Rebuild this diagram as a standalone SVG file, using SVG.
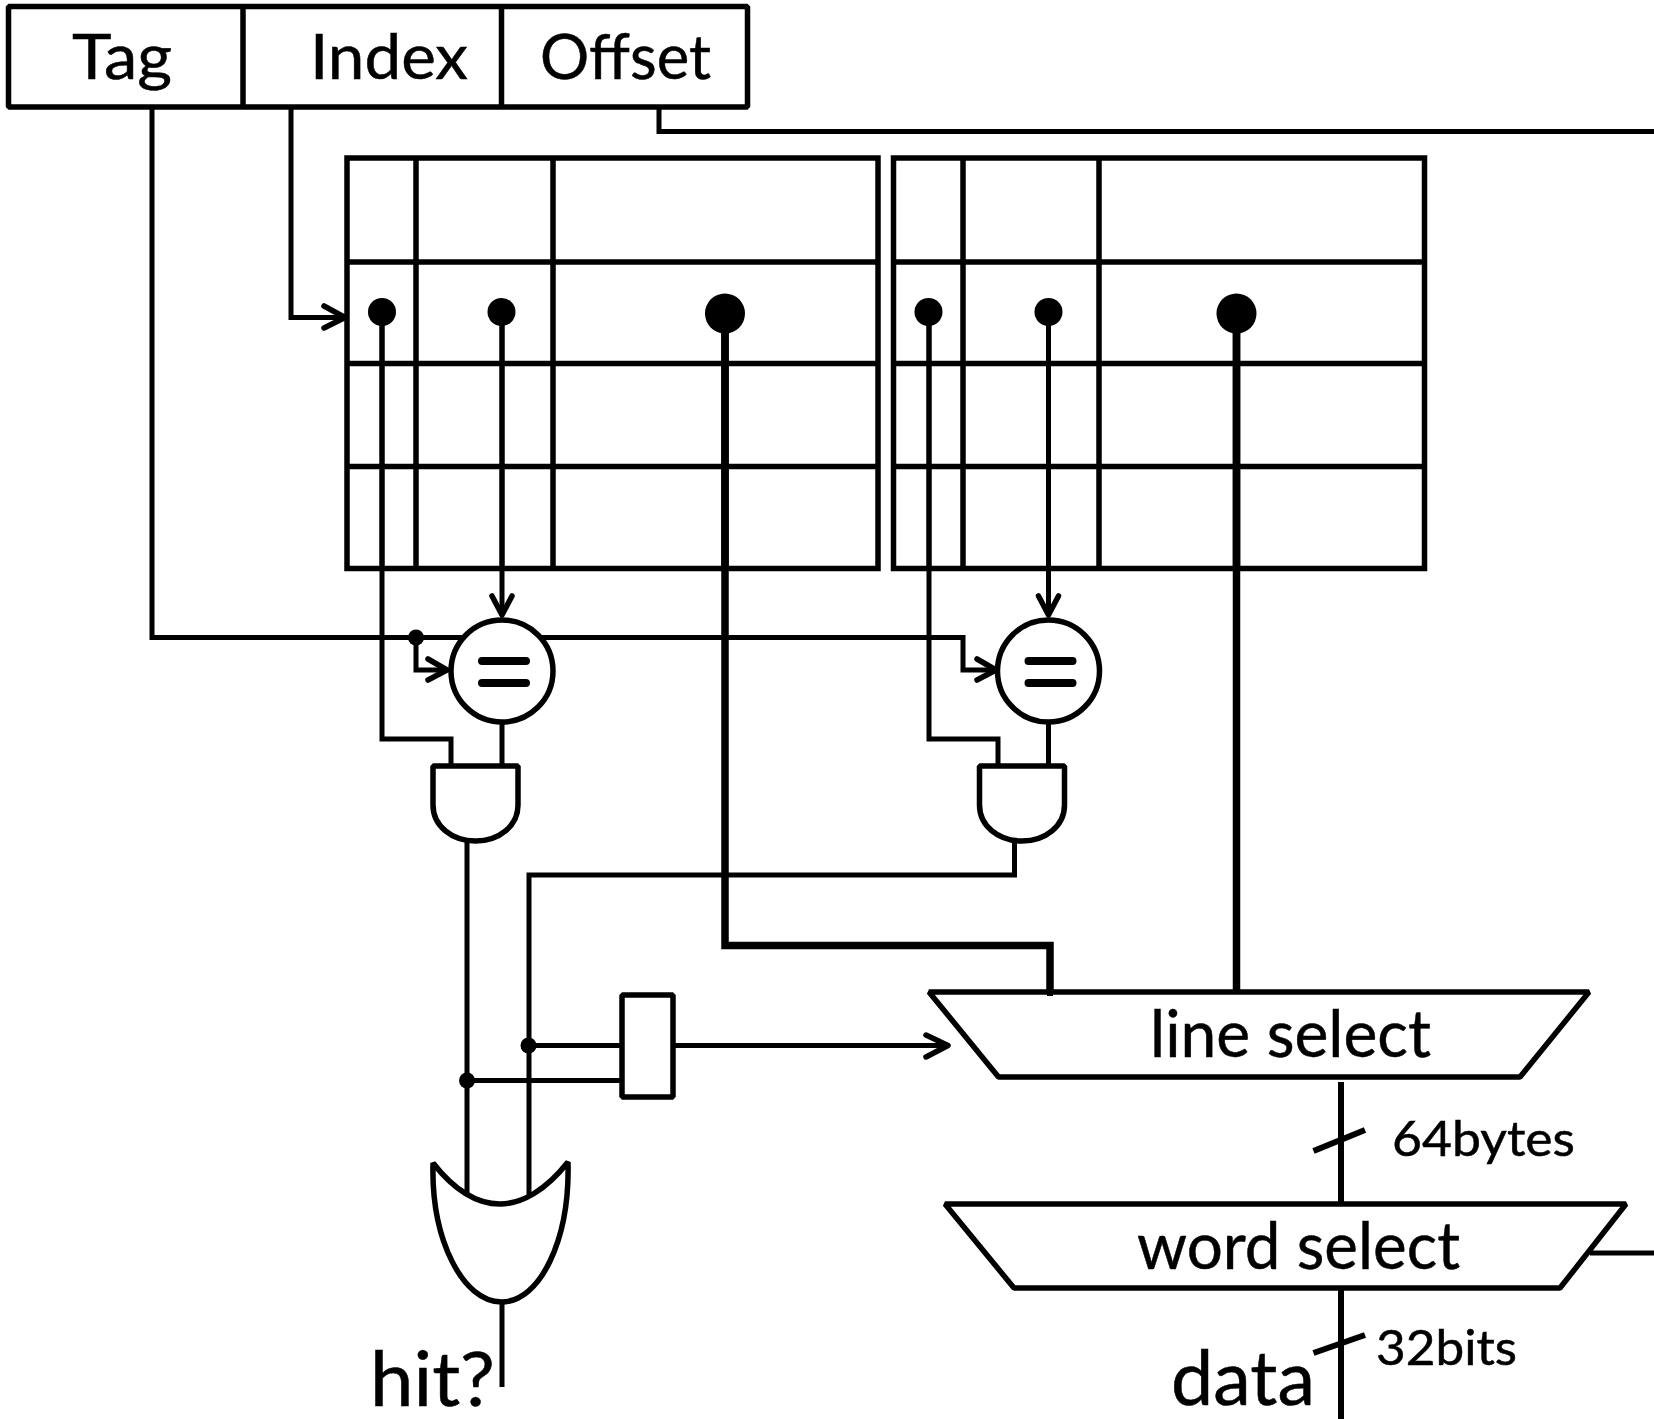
<svg xmlns="http://www.w3.org/2000/svg" width="1654" height="1419" viewBox="0 0 1654 1419">
<style>
.s{fill:#fff;stroke:#000;stroke-width:5.5;stroke-linejoin:bevel}
.g{fill:none;stroke:#000;stroke-width:5.5}
.w{fill:none;stroke:#000;stroke-width:5}
.t{fill:none;stroke:#000;stroke-width:7.5}
.m{fill:none;stroke:#000;stroke-width:6}
.a{fill:none;stroke:#000;stroke-width:5.5;stroke-linecap:round;stroke-linejoin:round}
.d{fill:#000}
.e{fill:none;stroke:#000;stroke-width:8;stroke-linecap:round}
text{font-family:"Lato","Open Sans","Liberation Sans",sans-serif;fill:#000;stroke:#000;stroke-width:0.5}
</style>
<rect width="1654" height="1419" fill="#fff"/>
<g id="connectors">
<path class="w" d="M152 107V637.5H545"/>
<path class="w" d="M545 637.5H963V670H992"/>
<path class="w" d="M291 107V317.5H343"/>
<path class="w" d="M659 107V131.500H1654"/>
<path class="a" d="M324 306L345 317.500L324 328"/>
<path class="w" d="M416 637V670H444"/>
<path class="a" d="M428 659L447 670L428 680"/>
<path class="a" d="M977 659L996 670L977 680"/>
<path class="w" d="M382 312V739H451V766"/>
<path class="w" d="M929 312V739H998V766"/>
<path class="w" d="M502 312V612"/>
<path class="w" d="M1048.500 312V612"/>
<path class="a" d="M492 596L502 615L512 596"/>
<path class="a" d="M1038.500 596L1048.500 615L1058.500 596"/>
<path class="w" d="M502 722V766"/>
<path class="w" d="M1048.500 722V766"/>
<path class="t" d="M725 313V945.500H1050V996"/>
<path class="t" d="M1236.500 313V992"/>
<path class="w" d="M467 841V1195"/>
<path class="w" d="M1014.500 841V875H529V1195"/>
<path class="w" d="M529 1045.500H622"/>
<path class="w" d="M467 1080.500H622"/>
<path class="w" d="M673 1045.500H945"/>
<path class="a" d="M926 1035L948 1045.500L926 1057"/>
<path class="w" d="M502 1302V1387"/>
<path class="m" d="M1341 1082V1204"/>
<path class="m" d="M1313.500 1151L1365 1130"/>
<path class="m" d="M1341 1288V1419"/>
<path class="m" d="M1313.500 1353L1365 1335"/>
<path class="w" d="M1590 1253H1654"/>
</g>
<g id="address">
<rect class="s" x="8.500" y="6.500" width="739" height="100.500"/>
<path class="g" d="M243 6.500V107M501.500 6.500V107"/>
<text x="72" y="79" font-size="61" textLength="100" lengthAdjust="spacingAndGlyphs">Tag</text>
<text x="310" y="79" font-size="61" textLength="158" lengthAdjust="spacingAndGlyphs">Index</text>
<text x="540" y="79" font-size="61" textLength="171" lengthAdjust="spacingAndGlyphs">Offset</text>
</g>
<g id="cache-way-1">
<rect class="g" x="347" y="158" width="531" height="410.500"/>
<path class="g" d="M416 158V568.500M553 158V568.500M347 262H878M347 363.500H878M347 466.500H878"/>
</g>
<g id="cache-way-2">
<rect class="g" x="893.500" y="158" width="531" height="410.500"/>
<path class="g" d="M963 158V568.500M1099 158V568.500M893.500 262H1424.500M893.500 363.500H1424.500M893.500 466.500H1424.500"/>
</g>
<g id="read-points">
<path class="w" d="M382 312V568M929 312V568M502 312V568M1048.500 312V568"/>
<path class="t" d="M725 313V568M1236.500 313V568"/>
<circle class="d" cx="382" cy="312" r="14"/>
<circle class="d" cx="501.500" cy="312" r="14"/>
<circle class="d" cx="725" cy="313.500" r="20"/>
<circle class="d" cx="928.500" cy="312" r="14"/>
<circle class="d" cx="1048.500" cy="312" r="14"/>
<circle class="d" cx="1236.500" cy="313.500" r="20"/>
</g>
<g id="compare-1">
<circle class="s" cx="502" cy="671" r="51"/>
<path class="e" d="M482 661H526M482 683H526"/>
</g>
<g id="compare-2">
<circle class="s" cx="1048.500" cy="671" r="51"/>
<path class="e" d="M1028.500 661H1072.500M1028.500 683H1072.500"/>
</g>
<g id="and-1"><path class="s" d="M433 766H518V805C518 826 499 841 475.500 841C452 841 433 826 433 805Z"/></g>
<g id="and-2"><path class="s" d="M979.500 766H1064.500V805C1064.500 826 1045.500 841 1022 841C998.500 841 979.500 826 979.500 805Z"/></g>
<g id="junctions">
<circle class="d" cx="416" cy="637.500" r="8"/>
<circle class="d" cx="528.500" cy="1045.500" r="8"/>
<circle class="d" cx="467" cy="1080.500" r="8"/>
</g>
<g id="latch"><rect class="s" x="622" y="995" width="51" height="102"/></g>
<g id="or"><path class="s" d="M433 1163C455 1191 478 1204 500 1204C522 1204 546 1190 568 1162C570 1240 540 1302 501.500 1302C463 1302 431 1240 433 1163Z"/></g>
<g id="line-select">
<path class="s" d="M929 992H1589L1520 1077H998.500Z"/>
<path class="m" d="M1050 990V996"/>
<text x="1150" y="1057" font-size="65" textLength="281" lengthAdjust="spacingAndGlyphs">line select</text>
</g>
<g id="word-select">
<path class="s" d="M945 1204H1626L1560 1288H1014Z"/>
<text x="1137" y="1269" font-size="65" textLength="323" lengthAdjust="spacingAndGlyphs">word select</text>
</g>
<g id="labels">
<text x="1392" y="1156" font-size="49" textLength="183" lengthAdjust="spacingAndGlyphs">64bytes</text>
<text x="1376" y="1365" font-size="49" textLength="141" lengthAdjust="spacingAndGlyphs">32bits</text>
<text x="370" y="1406" font-size="75" textLength="125" lengthAdjust="spacingAndGlyphs">hit?</text>
<text x="1171" y="1405" font-size="75" textLength="144" lengthAdjust="spacingAndGlyphs">data</text>
</g>
</svg>
